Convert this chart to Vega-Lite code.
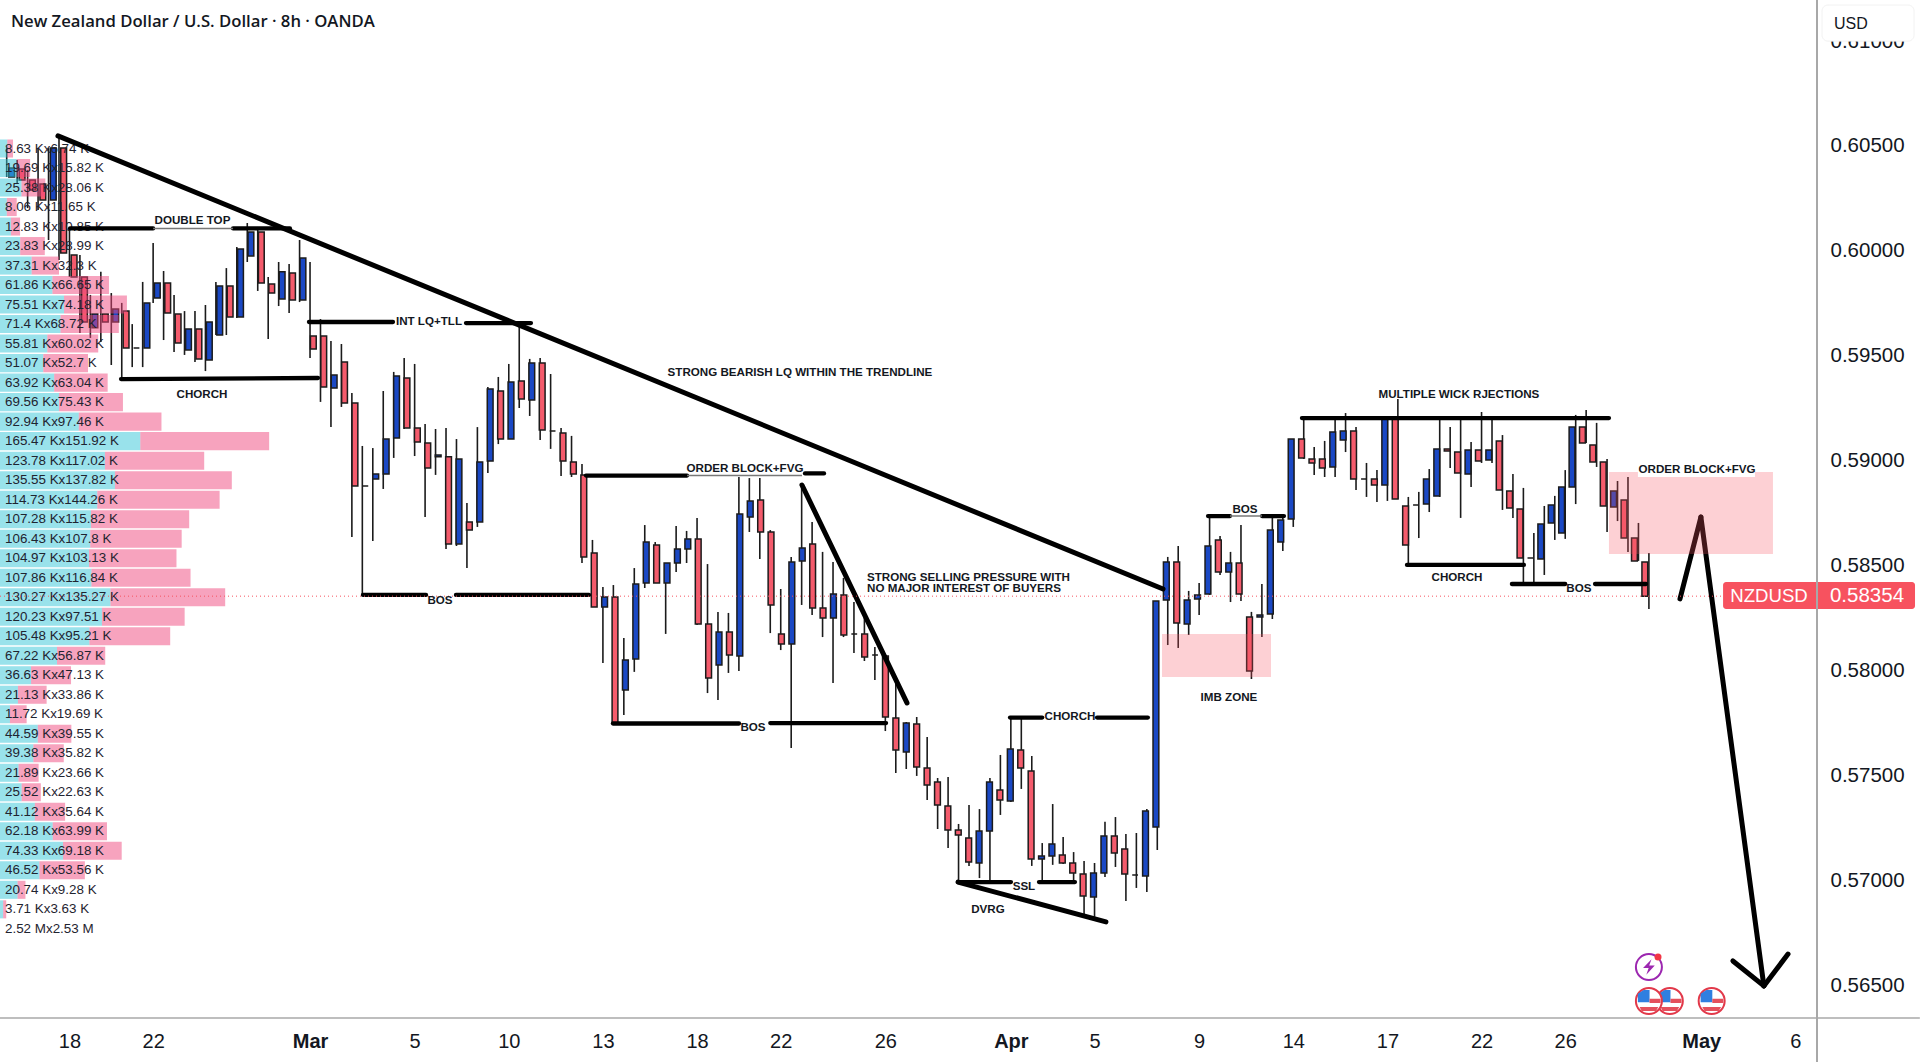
{"$schema":"https://vega.github.io/schema/vega-lite/v6.json","width":1817,"height":1018,"autosize":{"type":"none"},"padding":{"left":0,"top":0,"right":103,"bottom":44},"background":"white","config":{"view":{"stroke":null},"font":"Liberation Sans"},"resolve":{"scale":{"x":"independent"}},
"datasets":{
"candles":[
{"i":0,"o":0.60352,"c":0.60395,"h":0.6049,"l":0.60352},{"i":1,"o":0.6039,"c":0.60338,"h":0.60433,"l":0.60324},{"i":2,"o":0.60338,"c":0.6029,"h":0.60386,"l":0.60204},{"i":3,"o":0.60319,"c":0.60243,"h":0.6049,"l":0.60195},{"i":4,"o":0.60243,"c":0.6049,"h":0.6049,"l":0.60052},{"i":5,"o":0.6049,"c":0.5999,"h":0.60543,"l":0.59957},{"i":6,"o":0.5998,"c":0.59876,"h":0.60109,"l":0.59876},{"i":7,"o":0.59876,"c":0.59661,"h":0.5998,"l":0.59609},{"i":8,"o":0.59633,"c":0.59699,"h":0.5979,"l":0.59585},{"i":9,"o":0.59699,"c":0.59661,"h":0.599,"l":0.59566},
{"i":10,"o":0.59661,"c":0.59723,"h":0.59799,"l":0.59456},{"i":11,"o":0.59713,"c":0.59537,"h":0.59752,"l":0.59394},{"i":12,"o":0.59537,"c":0.59537,"h":0.59651,"l":0.59446},{"i":13,"o":0.59537,"c":0.59752,"h":0.59852,"l":0.59446},{"i":14,"o":0.59775,"c":0.59847,"h":0.60038,"l":0.59752},{"i":15,"o":0.59847,"c":0.59704,"h":0.59904,"l":0.59575},{"i":16,"o":0.59699,"c":0.59561,"h":0.5979,"l":0.59518},{"i":17,"o":0.59528,"c":0.59628,"h":0.59713,"l":0.59504},{"i":18,"o":0.59628,"c":0.59485,"h":0.59713,"l":0.5947},{"i":19,"o":0.5948,"c":0.59661,"h":0.59742,"l":0.59427},
{"i":20,"o":0.59599,"c":0.59833,"h":0.59852,"l":0.59599},{"i":21,"o":0.59833,"c":0.59685,"h":0.59918,"l":0.59599},{"i":22,"o":0.59685,"c":0.60009,"h":0.60019,"l":0.5968},{"i":23,"o":0.59976,"c":0.6009,"h":0.60133,"l":0.59947},{"i":24,"o":0.6009,"c":0.59847,"h":0.60114,"l":0.59809},{"i":25,"o":0.59842,"c":0.59799,"h":0.59876,"l":0.5958},{"i":26,"o":0.59771,"c":0.599,"h":0.59947,"l":0.59737},{"i":27,"o":0.59895,"c":0.59766,"h":0.59938,"l":0.59704},{"i":28,"o":0.59766,"c":0.59966,"h":0.60052,"l":0.59756},{"i":29,"o":0.59594,"c":0.59532,"h":0.59947,"l":0.59489},
{"i":30,"o":0.59594,"c":0.59351,"h":0.59675,"l":0.5928},{"i":31,"o":0.59346,"c":0.59408,"h":0.5957,"l":0.5916},{"i":32,"o":0.5947,"c":0.59275,"h":0.59556,"l":0.59256},{"i":33,"o":0.59275,"c":0.58879,"h":0.59323,"l":0.58636},{"i":34,"o":0.58879,"c":0.58879,"h":0.5907,"l":0.5836},{"i":35,"o":0.58912,"c":0.58936,"h":0.5906,"l":0.58617},{"i":36,"o":0.58936,"c":0.59103,"h":0.59332,"l":0.58865},{"i":37,"o":0.59108,"c":0.59404,"h":0.59423,"l":0.59013},{"i":38,"o":0.59394,"c":0.59156,"h":0.59489,"l":0.59151},{"i":39,"o":0.59156,"c":0.59089,"h":0.59461,"l":0.59022},
{"i":40,"o":0.59084,"c":0.58965,"h":0.59175,"l":0.58731},{"i":41,"o":0.59018,"c":0.59027,"h":0.59151,"l":0.58932},{"i":42,"o":0.59018,"c":0.58603,"h":0.59156,"l":0.58579},{"i":43,"o":0.58603,"c":0.59008,"h":0.59103,"l":0.58593},{"i":44,"o":0.58708,"c":0.58669,"h":0.58798,"l":0.58488},{"i":45,"o":0.58708,"c":0.58994,"h":0.5916,"l":0.58684},{"i":46,"o":0.58998,"c":0.59342,"h":0.59351,"l":0.58941},{"i":47,"o":0.59332,"c":0.59103,"h":0.59399,"l":0.59079},{"i":48,"o":0.59103,"c":0.59375,"h":0.59461,"l":0.59103},{"i":49,"o":0.5938,"c":0.59294,"h":0.59647,"l":0.59251},
{"i":50,"o":0.59289,"c":0.59466,"h":0.59485,"l":0.59213},{"i":51,"o":0.59466,"c":0.59146,"h":0.59489,"l":0.59098},{"i":52,"o":0.59141,"c":0.59141,"h":0.59413,"l":0.59056},{"i":53,"o":0.59132,"c":0.58998,"h":0.59156,"l":0.58927},{"i":54,"o":0.58994,"c":0.58936,"h":0.59118,"l":0.58922},{"i":55,"o":0.58932,"c":0.58541,"h":0.58984,"l":0.58512},{"i":56,"o":0.5856,"c":0.58302,"h":0.58622,"l":0.58302},{"i":57,"o":0.58302,"c":0.5835,"h":0.58398,"l":0.58035},{"i":58,"o":0.5835,"c":0.57749,"h":0.58407,"l":0.57749},{"i":59,"o":0.57907,"c":0.5805,"h":0.58155,"l":0.57788},
{"i":60,"o":0.58055,"c":0.58412,"h":0.58488,"l":0.57993},{"i":61,"o":0.58417,"c":0.58612,"h":0.58693,"l":0.58393},{"i":62,"o":0.58598,"c":0.58417,"h":0.58612,"l":0.58417},{"i":63,"o":0.58417,"c":0.58512,"h":0.58512,"l":0.58174},{"i":64,"o":0.58512,"c":0.58579,"h":0.58688,"l":0.58469},{"i":65,"o":0.58579,"c":0.58627,"h":0.58665,"l":0.58512},{"i":66,"o":0.58627,"c":0.58221,"h":0.58727,"l":0.58217},{"i":67,"o":0.58221,"c":0.57964,"h":0.58507,"l":0.57892},{"i":68,"o":0.58026,"c":0.58183,"h":0.58279,"l":0.57859},{"i":69,"o":0.58183,"c":0.58074,"h":0.58274,"l":0.57988},
{"i":70,"o":0.58069,"c":0.58746,"h":0.58922,"l":0.57997},{"i":71,"o":0.58731,"c":0.58808,"h":0.58917,"l":0.5866},{"i":72,"o":0.58812,"c":0.5866,"h":0.58917,"l":0.58531},{"i":73,"o":0.5866,"c":0.58312,"h":0.58669,"l":0.58178},{"i":74,"o":0.58174,"c":0.58126,"h":0.58388,"l":0.58097},{"i":75,"o":0.58126,"c":0.58517,"h":0.58541,"l":0.5763},{"i":76,"o":0.58522,"c":0.58584,"h":0.58884,"l":0.58312},{"i":77,"o":0.58603,"c":0.58298,"h":0.58708,"l":0.58264},{"i":78,"o":0.58298,"c":0.5825,"h":0.58565,"l":0.58159},{"i":79,"o":0.5825,"c":0.58364,"h":0.58517,"l":0.5794},
{"i":80,"o":0.5836,"c":0.58169,"h":0.58441,"l":0.58159},{"i":81,"o":0.58174,"c":0.58174,"h":0.58326,"l":0.58083},{"i":82,"o":0.58174,"c":0.58064,"h":0.5825,"l":0.58045},{"i":83,"o":0.58074,"c":0.58074,"h":0.58112,"l":0.57954},{"i":84,"o":0.58069,"c":0.57778,"h":0.58074,"l":0.57711},{"i":85,"o":0.57773,"c":0.57621,"h":0.5794,"l":0.57511},{"i":86,"o":0.57611,"c":0.57749,"h":0.57754,"l":0.5753},{"i":87,"o":0.57745,"c":0.5754,"h":0.57778,"l":0.57497},{"i":88,"o":0.57535,"c":0.57454,"h":0.57683,"l":0.57382},{"i":89,"o":0.57468,"c":0.57358,"h":0.57487,"l":0.57244},
{"i":90,"o":0.57354,"c":0.57239,"h":0.57492,"l":0.57153},{"i":91,"o":0.57239,"c":0.57215,"h":0.57268,"l":0.56991},{"i":92,"o":0.57201,"c":0.57087,"h":0.57358,"l":0.57068},{"i":93,"o":0.57082,"c":0.57234,"h":0.57339,"l":0.5701},{"i":94,"o":0.57234,"c":0.57468,"h":0.57487,"l":0.57001},{"i":95,"o":0.5743,"c":0.57382,"h":0.57597,"l":0.57311},{"i":96,"o":0.57378,"c":0.57625,"h":0.57778,"l":0.57373},{"i":97,"o":0.57621,"c":0.57535,"h":0.57773,"l":0.57435},{"i":98,"o":0.57521,"c":0.57101,"h":0.57592,"l":0.57068},{"i":99,"o":0.57101,"c":0.57115,"h":0.57177,"l":0.56996},
{"i":100,"o":0.57115,"c":0.57173,"h":0.57363,"l":0.57073},{"i":101,"o":0.5712,"c":0.57082,"h":0.57206,"l":0.57077},{"i":102,"o":0.57082,"c":0.57034,"h":0.57134,"l":0.56986},{"i":103,"o":0.5703,"c":0.56925,"h":0.57092,"l":0.56834},{"i":104,"o":0.5692,"c":0.57034,"h":0.57082,"l":0.56825},{"i":105,"o":0.57034,"c":0.57211,"h":0.57278,"l":0.57015},{"i":106,"o":0.57211,"c":0.5713,"h":0.57301,"l":0.57063},{"i":107,"o":0.57149,"c":0.5703,"h":0.5722,"l":0.56901},{"i":108,"o":0.57025,"c":0.57025,"h":0.57225,"l":0.56963},{"i":109,"o":0.5702,"c":0.5733,"h":0.57339,"l":0.56944},
{"i":110,"o":0.57254,"c":0.58331,"h":0.58331,"l":0.57144},{"i":111,"o":0.58336,"c":0.58517,"h":0.58541,"l":0.58121},{"i":112,"o":0.58517,"c":0.58226,"h":0.58593,"l":0.58107},{"i":113,"o":0.58221,"c":0.58336,"h":0.58379,"l":0.58169},{"i":114,"o":0.58341,"c":0.5836,"h":0.58417,"l":0.58264},{"i":115,"o":0.58364,"c":0.58593,"h":0.58731,"l":0.5836},{"i":116,"o":0.58622,"c":0.58469,"h":0.58641,"l":0.58455},{"i":117,"o":0.58469,"c":0.58512,"h":0.58565,"l":0.58326},{"i":118,"o":0.58512,"c":0.58364,"h":0.58693,"l":0.58331},{"i":119,"o":0.58255,"c":0.57997,"h":0.58279,"l":0.57959},
{"i":120,"o":0.58255,"c":0.58264,"h":0.58412,"l":0.58159},{"i":121,"o":0.58269,"c":0.58669,"h":0.58727,"l":0.58245},{"i":122,"o":0.58612,"c":0.58717,"h":0.58731,"l":0.58569},{"i":123,"o":0.58722,"c":0.59103,"h":0.59103,"l":0.58684},{"i":124,"o":0.59103,"c":0.59013,"h":0.59203,"l":0.59008},{"i":125,"o":0.59008,"c":0.58989,"h":0.59065,"l":0.58932},{"i":126,"o":0.59008,"c":0.58965,"h":0.59094,"l":0.58922},{"i":127,"o":0.5897,"c":0.59137,"h":0.59203,"l":0.58922},{"i":128,"o":0.59098,"c":0.59141,"h":0.59227,"l":0.59041},{"i":129,"o":0.59141,"c":0.58912,"h":0.5916,"l":0.5886},
{"i":130,"o":0.58912,"c":0.58912,"h":0.58989,"l":0.58827},{"i":131,"o":0.58912,"c":0.58884,"h":0.58955,"l":0.58803},{"i":132,"o":0.58884,"c":0.59203,"h":0.59203,"l":0.58808},{"i":133,"o":0.59203,"c":0.58817,"h":0.59294,"l":0.58817},{"i":134,"o":0.58784,"c":0.58598,"h":0.58827,"l":0.58503},{"i":135,"o":0.58789,"c":0.58789,"h":0.58851,"l":0.58631},{"i":136,"o":0.58793,"c":0.58912,"h":0.5896,"l":0.58755},{"i":137,"o":0.58831,"c":0.59056,"h":0.59198,"l":0.58827},{"i":138,"o":0.59056,"c":0.59046,"h":0.5916,"l":0.58965},{"i":139,"o":0.59041,"c":0.58941,"h":0.59198,"l":0.58727},
{"i":140,"o":0.58936,"c":0.59051,"h":0.59089,"l":0.58874},{"i":141,"o":0.59051,"c":0.58998,"h":0.59232,"l":0.58989},{"i":142,"o":0.59003,"c":0.59051,"h":0.59198,"l":0.58989},{"i":143,"o":0.59094,"c":0.5886,"h":0.59122,"l":0.58765},{"i":144,"o":0.58855,"c":0.58774,"h":0.58936,"l":0.58727},{"i":145,"o":0.5877,"c":0.58536,"h":0.5887,"l":0.58417},{"i":146,"o":0.58536,"c":0.58536,"h":0.58655,"l":0.58417},{"i":147,"o":0.58531,"c":0.58698,"h":0.58784,"l":0.58455},{"i":148,"o":0.58703,"c":0.58789,"h":0.58832,"l":0.58622},{"i":149,"o":0.58655,"c":0.58874,"h":0.58955,"l":0.58627},
{"i":150,"o":0.58874,"c":0.5916,"h":0.59218,"l":0.58793},{"i":151,"o":0.5916,"c":0.59084,"h":0.59242,"l":0.59084},{"i":152,"o":0.59075,"c":0.58994,"h":0.5918,"l":0.5897},{"i":153,"o":0.58994,"c":0.58784,"h":0.59008,"l":0.5866},{"i":154,"o":0.58779,"c":0.58855,"h":0.58903,"l":0.58712},{"i":155,"o":0.58812,"c":0.58631,"h":0.58922,"l":0.58565},{"i":156,"o":0.58631,"c":0.58522,"h":0.58703,"l":0.58522},{"i":157,"o":0.58517,"c":0.58354,"h":0.5856,"l":0.58293}],
"volume":[
{"label":"8.63 Kx6.74 K","buy":8.63,"total":15.37,"top":0.60531,"mid":0.60488,"bottom":0.60445},
{"label":"19.69 Kx15.82 K","buy":19.69,"total":35.51,"top":0.60438,"mid":0.60395,"bottom":0.60352},
{"label":"25.38 Kx28.06 K","buy":25.38,"total":53.44,"top":0.60345,"mid":0.60302,"bottom":0.60259},
{"label":"8.06 Kx11.65 K","buy":8.06,"total":19.71,"top":0.60252,"mid":0.60209,"bottom":0.60166},
{"label":"12.83 Kx10.85 K","buy":12.83,"total":23.68,"top":0.60159,"mid":0.60116,"bottom":0.60073},
{"label":"23.83 Kx28.99 K","buy":23.83,"total":52.82,"top":0.60066,"mid":0.60023,"bottom":0.5998},
{"label":"37.31 Kx32.3 K","buy":37.31,"total":69.61,"top":0.59973,"mid":0.5993,"bottom":0.59887},
{"label":"61.86 Kx66.65 K","buy":61.86,"total":128.51,"top":0.5988,"mid":0.59837,"bottom":0.59794},
{"label":"75.51 Kx74.18 K","buy":75.51,"total":149.69,"top":0.59787,"mid":0.59744,"bottom":0.59701},
{"label":"71.4 Kx68.72 K","buy":71.4,"total":140.12,"top":0.59694,"mid":0.59651,"bottom":0.59608},
{"label":"55.81 Kx60.02 K","buy":55.81,"total":115.83,"top":0.59601,"mid":0.59558,"bottom":0.59515},
{"label":"51.07 Kx52.7 K","buy":51.07,"total":103.77,"top":0.59508,"mid":0.59465,"bottom":0.59422},
{"label":"63.92 Kx63.04 K","buy":63.92,"total":126.96,"top":0.59415,"mid":0.59372,"bottom":0.59329},
{"label":"69.56 Kx75.43 K","buy":69.56,"total":144.99,"top":0.59322,"mid":0.59279,"bottom":0.59236},
{"label":"92.94 Kx97.46 K","buy":92.94,"total":190.4,"top":0.59229,"mid":0.59186,"bottom":0.59143},
{"label":"165.47 Kx151.92 K","buy":165.47,"total":317.39,"top":0.59136,"mid":0.59093,"bottom":0.5905},
{"label":"123.78 Kx117.02 K","buy":123.78,"total":240.8,"top":0.59043,"mid":0.59,"bottom":0.58957},
{"label":"135.55 Kx137.82 K","buy":135.55,"total":273.37,"top":0.5895,"mid":0.58907,"bottom":0.58864},
{"label":"114.73 Kx144.26 K","buy":114.73,"total":258.99,"top":0.58857,"mid":0.58814,"bottom":0.58771},
{"label":"107.28 Kx115.82 K","buy":107.28,"total":223.1,"top":0.58764,"mid":0.58721,"bottom":0.58678},
{"label":"106.43 Kx107.8 K","buy":106.43,"total":214.23,"top":0.58671,"mid":0.58628,"bottom":0.58585},
{"label":"104.97 Kx103.13 K","buy":104.97,"total":208.1,"top":0.58578,"mid":0.58535,"bottom":0.58492},
{"label":"107.86 Kx116.84 K","buy":107.86,"total":224.7,"top":0.58485,"mid":0.58442,"bottom":0.58399},
{"label":"130.27 Kx135.27 K","buy":130.27,"total":265.54,"top":0.58392,"mid":0.58349,"bottom":0.58306},
{"label":"120.23 Kx97.51 K","buy":120.23,"total":217.74,"top":0.58299,"mid":0.58256,"bottom":0.58213},
{"label":"105.48 Kx95.21 K","buy":105.48,"total":200.69,"top":0.58206,"mid":0.58163,"bottom":0.5812},
{"label":"67.22 Kx56.87 K","buy":67.22,"total":124.09,"top":0.58113,"mid":0.5807,"bottom":0.58027},
{"label":"36.63 Kx47.13 K","buy":36.63,"total":83.76,"top":0.5802,"mid":0.57977,"bottom":0.57934},
{"label":"21.13 Kx33.86 K","buy":21.13,"total":54.99,"top":0.57927,"mid":0.57884,"bottom":0.57841},
{"label":"11.72 Kx19.69 K","buy":11.72,"total":31.41,"top":0.57834,"mid":0.57791,"bottom":0.57748},
{"label":"44.59 Kx39.55 K","buy":44.59,"total":84.14,"top":0.57741,"mid":0.57698,"bottom":0.57655},
{"label":"39.38 Kx35.82 K","buy":39.38,"total":75.2,"top":0.57648,"mid":0.57605,"bottom":0.57562},
{"label":"21.89 Kx23.66 K","buy":21.89,"total":45.55,"top":0.57555,"mid":0.57512,"bottom":0.57469},
{"label":"25.52 Kx22.63 K","buy":25.52,"total":48.15,"top":0.57462,"mid":0.57419,"bottom":0.57376},
{"label":"41.12 Kx35.64 K","buy":41.12,"total":76.76,"top":0.57369,"mid":0.57326,"bottom":0.57283},
{"label":"62.18 Kx63.99 K","buy":62.18,"total":126.17,"top":0.57276,"mid":0.57233,"bottom":0.5719},
{"label":"74.33 Kx69.18 K","buy":74.33,"total":143.51,"top":0.57183,"mid":0.5714,"bottom":0.57097},
{"label":"46.52 Kx53.56 K","buy":46.52,"total":100.08,"top":0.5709,"mid":0.57047,"bottom":0.57004},
{"label":"20.74 Kx9.28 K","buy":20.74,"total":30.02,"top":0.56997,"mid":0.56954,"bottom":0.56911},
{"label":"3.71 Kx3.63 K","buy":3.71,"total":7.34,"top":0.56904,"mid":0.56861,"bottom":0.56818},
{"label":"2.52 Mx2.53 M","buy":0,"total":0,"top":0.56811,"mid":0.56768,"bottom":0.56725}],
"heavy":[
{"x1":4.9,"y1":0.60548,"x2":110.55,"y2":0.58388},{"x1":76.03,"y1":0.58884,"x2":86.07,"y2":0.57845},{"x1":90.95,"y1":0.56991,"x2":105.09,"y2":0.56801},
{"x1":159.97,"y1":0.58341,"x2":161.97,"y2":0.58731},{"x1":161.97,"y1":0.58731,"x2":167.99,"y2":0.56496},{"x1":165.03,"y1":0.56615,"x2":167.99,"y2":0.56496},{"x1":170.3,"y1":0.56648,"x2":167.99,"y2":0.56496}],
"lines":[
{"x1":6.05,"y1":0.60107,"x2":14,"y2":0.60107},{"x1":21.64,"y1":0.60107,"x2":27.08,"y2":0.60107},
{"x1":10.93,"y1":0.59389,"x2":29.76,"y2":0.59394},
{"x1":28.9,"y1":0.59661,"x2":36.93,"y2":0.59661},{"x1":43.91,"y1":0.59656,"x2":50.12,"y2":0.59656},
{"x1":34.06,"y1":0.5836,"x2":40.09,"y2":0.5836},{"x1":42.95,"y1":0.5836,"x2":55.67,"y2":0.5836},
{"x1":55.38,"y1":0.58929,"x2":65.04,"y2":0.58929},{"x1":76.32,"y1":0.58939,"x2":78.14,"y2":0.58939},
{"x1":57.96,"y1":0.57747,"x2":70.01,"y2":0.57747},{"x1":73,"y1":0.57749,"x2":84.07,"y2":0.57749},
{"x1":95.92,"y1":0.57775,"x2":99,"y2":0.57775},{"x1":104.24,"y1":0.57775,"x2":109.1,"y2":0.57775},
{"x1":90.95,"y1":0.56991,"x2":96.01,"y2":0.56991},{"x1":98.69,"y1":0.56991,"x2":102.13,"y2":0.56991},
{"x1":114.85,"y1":0.58736,"x2":116.95,"y2":0.58736},{"x1":120.01,"y1":0.58736,"x2":122.11,"y2":0.58736},
{"x1":123.83,"y1":0.59203,"x2":153.18,"y2":0.59203},
{"x1":133.87,"y1":0.58503,"x2":145.05,"y2":0.58503},
{"x1":143.9,"y1":0.58412,"x2":149,"y2":0.58412},{"x1":151.85,"y1":0.58412,"x2":156.72,"y2":0.58412}],
"thin":[
{"x1":14,"y1":0.60107,"x2":21.64,"y2":0.60107},{"x1":65.04,"y1":0.58929,"x2":76.03,"y2":0.58929},{"x1":116.95,"y1":0.58736,"x2":120.01,"y2":0.58736}],
"zones":[{"x1":110.45,"x2":120.87,"y1":0.58174,"y2":0.57969},{"x1":153.18,"x2":168.86,"y1":0.58946,"y2":0.58555}],
"labels":[
{"t":"DOUBLE TOP","x":17.76,"y":0.60142},{"t":"CHORCH","x":18.67,"y":0.59313},{"t":"INT LQ+TLL","x":40.37,"y":0.59661},{"t":"STRONG BEARISH LQ WITHIN THE TRENDLINE","x":75.84,"y":0.59418},{"t":"ORDER BLOCK+FVG","x":70.58,"y":0.5896},{"t":"BOS","x":41.42,"y":0.58331},{"t":"BOS","x":71.35,"y":0.57726},{"t":"CHORCH","x":101.65,"y":0.57778},{"t":"SSL","x":97.25,"y":0.56968},{"t":"DVRG","x":93.81,"y":0.56858},{"t":"IMB ZONE","x":116.85,"y":0.57869},{"t":"BOS","x":118.38,"y":0.58765},{"t":"MULTIPLE WICK RJECTIONS","x":138.84,"y":0.59313},{"t":"CHORCH","x":138.65,"y":0.58441},{"t":"BOS","x":150.31,"y":0.58388},{"t":"ORDER BLOCK+FVG","x":161.6,"y":0.58955}],
"leftlabels":[{"t":"STRONG SELLING PRESSURE WITH","x":82.25,"y":0.58441},{"t":"NO MAJOR INTEREST OF BUYERS","x":82.25,"y":0.58388}],
"flagsBack":[{"x":159,"y":0.56424}],
"flagsFront":[{"x":163,"y":0.56424},{"x":157,"y":0.56424}]
},
"layer":[
{"data":{"name":"candles"},"mark":{"type":"rule","strokeWidth":1.6,"color":"#1b1b1b"},"encoding":{
"x":{"field":"i","type":"quantitative","title":null,"scale":{"domain":[-0.64,173.07],"nice":false,"zero":false},"axis":{"values":[6,14,29,39,48,57,66,74,84,96,104,114,123,132,141,149,162,171],"labelExpr":"{'6':'18','14':'22','29':'Mar','39':'5','48':'10','57':'13','66':'18','74':'22','84':'26','96':'Apr','104':'5','114':'9','123':'14','132':'17','141':'22','149':'26','162':'May','171':'6'}[datum.value]","domain":false,"ticks":false,"grid":false,"labelFontSize":20,"labelColor":"#131722","labelFont":"Liberation Sans","labelPadding":13,"labelOverlap":false,"labelFlush":false,"labelFontWeight":{"condition":{"test":"datum.value==29||datum.value==96||datum.value==162","value":"bold"},"value":"normal"}}},
"y":{"field":"h","type":"quantitative","title":null,"scale":{"domain":[0.56343,0.61196],"nice":false,"zero":false},"axis":{"orient":"right","values":[0.565,0.57,0.575,0.58,0.585,0.59,0.595,0.6,0.605,0.61],"format":".5f","domain":false,"ticks":false,"grid":false,"labelFontSize":20.5,"labelColor":"#131722","labelFont":"Liberation Sans","labelPadding":13,"labelOverlap":false,"labelFlush":false}},
"y2":{"field":"l"}}},
{"data":{"name":"candles"},"mark":{"type":"bar","size":5.8,"stroke":"#1b1b1b","strokeWidth":1.5,"orient":"vertical"},"encoding":{
"x":{"field":"i","type":"quantitative","axis":null,"scale":{"domain":[-0.64,173.07],"nice":false,"zero":false}},
"y":{"field":"o","type":"quantitative","title":null},
"y2":{"field":"c"},
"color":{"condition":{"test":"datum.c<datum.o","value":"#f45b6c"},"value":"#1a48c4"}}},
{"data":{"name":"volume"},"mark":{"type":"rect","color":"#33c5d8","opacity":0.5},"encoding":{
"x":{"field":"buy","type":"quantitative","axis":null,"scale":{"domain":[0,2142.7],"nice":false,"zero":false}},"x2":{"datum":0},
"y":{"field":"top","type":"quantitative","title":null},"y2":{"field":"bottom"}}},
{"data":{"name":"volume"},"mark":{"type":"rect","color":"#f0477d","opacity":0.5},"encoding":{
"x":{"field":"buy","type":"quantitative","axis":null,"scale":{"domain":[0,2142.7],"nice":false,"zero":false}},"x2":{"field":"total"},
"y":{"field":"top","type":"quantitative","title":null},"y2":{"field":"bottom"}}},
{"data":{"name":"volume"},"mark":{"type":"text","align":"left","baseline":"middle","dx":5,"fontSize":13.4,"color":"#1f2430","font":"Liberation Sans"},"encoding":{
"x":{"datum":0,"type":"quantitative","axis":null,"scale":{"domain":[0,2142.7],"nice":false,"zero":false}},
"y":{"field":"mid","type":"quantitative","title":null},"text":{"field":"label"}}},
{"data":{"values":[{"x1":-0.64,"x2":182.9,"y":0.56343}]},"mark":{"type":"rule","color":"#a8a8a8","strokeWidth":1.6},"encoding":{
"x":{"field":"x1","type":"quantitative","axis":null,"scale":{"domain":[-0.64,173.07],"nice":false,"zero":false}},"x2":{"field":"x2"},
"y":{"field":"y","type":"quantitative","title":null}}},
{"data":{"name":"heavy"},"mark":{"type":"rule","color":"#000000","strokeWidth":5,"strokeCap":"round"},"encoding":{"x":{"field":"x1","type":"quantitative","axis":null,"scale":{"domain":[-0.64,173.07],"nice":false,"zero":false}},"x2":{"field":"x2"},"y":{"field":"y1","type":"quantitative","title":null},"y2":{"field":"y2"}}},
{"data":{"name":"lines"},"mark":{"type":"rule","color":"#000000","strokeWidth":4.3,"strokeCap":"round"},"encoding":{"x":{"field":"x1","type":"quantitative","axis":null,"scale":{"domain":[-0.64,173.07],"nice":false,"zero":false}},"x2":{"field":"x2"},"y":{"field":"y1","type":"quantitative","title":null},"y2":{"field":"y2"}}},
{"data":{"name":"thin"},"mark":{"type":"rule","color":"#777777","strokeWidth":1.5},"encoding":{"x":{"field":"x1","type":"quantitative","axis":null,"scale":{"domain":[-0.64,173.07],"nice":false,"zero":false}},"x2":{"field":"x2"},"y":{"field":"y1","type":"quantitative","title":null},"y2":{"field":"y2"}}},
{"data":{"values":[{"x1":-0.64,"x2":164.09,"y":0.58354}]},"mark":{"type":"rule","color":"#f7525f","strokeWidth":1,"strokeDash":[1,3]},"encoding":{"x":{"field":"x1","type":"quantitative","axis":null,"scale":{"domain":[-0.64,173.07],"nice":false,"zero":false}},"x2":{"field":"x2"},"y":{"field":"y","type":"quantitative","title":null}}},
{"data":{"name":"zones"},"mark":{"type":"rect","color":"#f7525f","opacity":0.27},"encoding":{"x":{"field":"x1","type":"quantitative","axis":null,"scale":{"domain":[-0.64,173.07],"nice":false,"zero":false}},"x2":{"field":"x2"},"y":{"field":"y1","type":"quantitative","title":null},"y2":{"field":"y2"}}},
{"data":{"values":[{"x1":155.95,"x2":167.14,"y1":0.58979,"y2":0.58922}]},"mark":{"type":"rect","color":"#ffffff"},"encoding":{"x":{"field":"x1","type":"quantitative","axis":null,"scale":{"domain":[-0.64,173.07],"nice":false,"zero":false}},"x2":{"field":"x2"},"y":{"field":"y1","type":"quantitative","title":null},"y2":{"field":"y2"}}},
{"data":{"name":"labels"},"mark":{"type":"text","align":"center","baseline":"middle","fontSize":11.6,"fontWeight":"bold","color":"#131722","font":"Liberation Sans"},"encoding":{"x":{"field":"x","type":"quantitative","axis":null,"scale":{"domain":[-0.64,173.07],"nice":false,"zero":false}},"y":{"field":"y","type":"quantitative","title":null},"text":{"field":"t"}}},
{"data":{"name":"leftlabels"},"mark":{"type":"text","align":"left","baseline":"middle","fontSize":11.6,"fontWeight":"bold","color":"#131722","font":"Liberation Sans"},"encoding":{"x":{"field":"x","type":"quantitative","axis":null,"scale":{"domain":[-0.64,173.07],"nice":false,"zero":false}},"y":{"field":"y","type":"quantitative","title":null},"text":{"field":"t"}}},
{"data":{"values":[{"x1":164.09,"x2":182.44,"y1":0.58422,"y2":0.58293}]},"mark":{"type":"rect","color":"#f7525f","cornerRadius":3},"encoding":{"x":{"field":"x1","type":"quantitative","axis":null,"scale":{"domain":[-0.64,173.07],"nice":false,"zero":false}},"x2":{"field":"x2"},"y":{"field":"y1","type":"quantitative","title":null},"y2":{"field":"y2"}}},
{"data":{"values":[{"x":173.07,"y1":0.61196,"y2":0.56133}]},"mark":{"type":"rule","color":"#a8a8a8","strokeWidth":2},"encoding":{"x":{"field":"x","type":"quantitative","axis":null,"scale":{"domain":[-0.64,173.07],"nice":false,"zero":false}},"y":{"field":"y1","type":"quantitative","title":null},"y2":{"field":"y2"}}},
{"data":{"values":[{"t":"0.58354","x":177.85,"y":0.58354}]},"mark":{"type":"text","align":"center","baseline":"middle","fontSize":20.5,"color":"#ffffff","font":"Liberation Sans"},"encoding":{"x":{"field":"x","type":"quantitative","axis":null,"scale":{"domain":[-0.64,173.07],"nice":false,"zero":false}},"y":{"field":"y","type":"quantitative","title":null},"text":{"field":"t"}}},
{"data":{"values":[{"t":"NZDUSD","x":168.48,"y":0.58354}]},"mark":{"type":"text","align":"center","baseline":"middle","fontSize":18.6,"color":"#ffffff","font":"Liberation Sans"},"encoding":{"x":{"field":"x","type":"quantitative","axis":null,"scale":{"domain":[-0.64,173.07],"nice":false,"zero":false}},"y":{"field":"y","type":"quantitative","title":null},"text":{"field":"t"}}},
{"data":{"values":[{"x1":173.55,"x2":182.35,"y1":0.61172,"y2":0.61}]},"mark":{"type":"rect","fill":"#ffffff","stroke":"#f2f2f2","strokeWidth":1,"cornerRadius":6},"encoding":{"x":{"field":"x1","type":"quantitative","axis":null,"scale":{"domain":[-0.64,173.07],"nice":false,"zero":false}},"x2":{"field":"x2"},"y":{"field":"y1","type":"quantitative","title":null},"y2":{"field":"y2"}}},
{"data":{"values":[{"t":"USD","x":174.7,"y":0.61082}]},"mark":{"type":"text","align":"left","baseline":"middle","fontSize":16,"color":"#131722","font":"Liberation Sans"},"encoding":{"x":{"field":"x","type":"quantitative","axis":null,"scale":{"domain":[-0.64,173.07],"nice":false,"zero":false}},"y":{"field":"y","type":"quantitative","title":null},"text":{"field":"t"}}},
{"data":{"values":[{"t":"New Zealand Dollar / U.S. Dollar · 8h · OANDA","x":0.41,"y":0.61091}]},"mark":{"type":"text","align":"left","baseline":"middle","fontSize":16.7,"fontWeight":600,"color":"#131722","font":"Open Sans"},"encoding":{"x":{"field":"x","type":"quantitative","axis":null,"scale":{"domain":[-0.64,173.07],"nice":false,"zero":false}},"y":{"field":"y","type":"quantitative","title":null},"text":{"field":"t"}}},
{"data":{"name":"flagsBack"},"mark":{"type":"point","shape":"circle","filled":true,"fill":"#ffffff","stroke":"#e2394a","strokeWidth":2,"size":676,"opacity":1},"encoding":{"x":{"field":"x","type":"quantitative","axis":null,"scale":{"domain":[-0.64,173.07],"nice":false,"zero":false}},"y":{"field":"y","type":"quantitative","title":null}}},
{"data":{"name":"flagsBack"},"mark":{"type":"point","shape":"M-0.85,-0.55L-0.4,-0.85L0.05,-0.85L0.05,0.1L-0.85,0.1Z","filled":true,"fill":"#2f7fe0","strokeWidth":0,"size":676,"opacity":1},"encoding":{"x":{"field":"x","type":"quantitative","axis":null,"scale":{"domain":[-0.64,173.07],"nice":false,"zero":false}},"y":{"field":"y","type":"quantitative","title":null}}},
{"data":{"name":"flagsBack"},"mark":{"type":"point","shape":"M0.05,-0.18H0.9V0.15H0.05ZM-0.72,0.46H0.72L0.55,0.77H-0.55Z","filled":true,"fill":"#e4505c","strokeWidth":0,"size":676,"opacity":1},"encoding":{"x":{"field":"x","type":"quantitative","axis":null,"scale":{"domain":[-0.64,173.07],"nice":false,"zero":false}},"y":{"field":"y","type":"quantitative","title":null}}},
{"data":{"name":"flagsFront"},"mark":{"type":"point","shape":"circle","filled":true,"fill":"#ffffff","stroke":"#e2394a","strokeWidth":2,"size":676,"opacity":1},"encoding":{"x":{"field":"x","type":"quantitative","axis":null,"scale":{"domain":[-0.64,173.07],"nice":false,"zero":false}},"y":{"field":"y","type":"quantitative","title":null}}},
{"data":{"name":"flagsFront"},"mark":{"type":"point","shape":"M-0.85,-0.55L-0.4,-0.85L0.05,-0.85L0.05,0.1L-0.85,0.1Z","filled":true,"fill":"#2f7fe0","strokeWidth":0,"size":676,"opacity":1},"encoding":{"x":{"field":"x","type":"quantitative","axis":null,"scale":{"domain":[-0.64,173.07],"nice":false,"zero":false}},"y":{"field":"y","type":"quantitative","title":null}}},
{"data":{"name":"flagsFront"},"mark":{"type":"point","shape":"M0.05,-0.18H0.9V0.15H0.05ZM-0.72,0.46H0.72L0.55,0.77H-0.55Z","filled":true,"fill":"#e4505c","strokeWidth":0,"size":676,"opacity":1},"encoding":{"x":{"field":"x","type":"quantitative","axis":null,"scale":{"domain":[-0.64,173.07],"nice":false,"zero":false}},"y":{"field":"y","type":"quantitative","title":null}}},
{"data":{"values":[{"x":157,"y":0.56586}]},"mark":{"type":"point","shape":"circle","filled":false,"stroke":"#9c27b0","strokeWidth":2,"size":676,"opacity":1},"encoding":{"x":{"field":"x","type":"quantitative","axis":null,"scale":{"domain":[-0.64,173.07],"nice":false,"zero":false}},"y":{"field":"y","type":"quantitative","title":null}}},
{"data":{"values":[{"x":157,"y":0.56586}]},"mark":{"type":"point","shape":"M0.2,-0.6L-0.45,0.08L-0.02,0.08L-0.2,0.6L0.45,-0.12L0.02,-0.12Z","filled":true,"fill":"#9c27b0","strokeWidth":0,"size":676,"opacity":1},"encoding":{"x":{"field":"x","type":"quantitative","axis":null,"scale":{"domain":[-0.64,173.07],"nice":false,"zero":false}},"y":{"field":"y","type":"quantitative","title":null}}},
{"data":{"values":[{"x":157.87,"y":0.56634}]},"mark":{"type":"point","shape":"circle","filled":true,"fill":"#f23645","strokeWidth":0,"size":49,"opacity":1},"encoding":{"x":{"field":"x","type":"quantitative","axis":null,"scale":{"domain":[-0.64,173.07],"nice":false,"zero":false}},"y":{"field":"y","type":"quantitative","title":null}}}
]}
